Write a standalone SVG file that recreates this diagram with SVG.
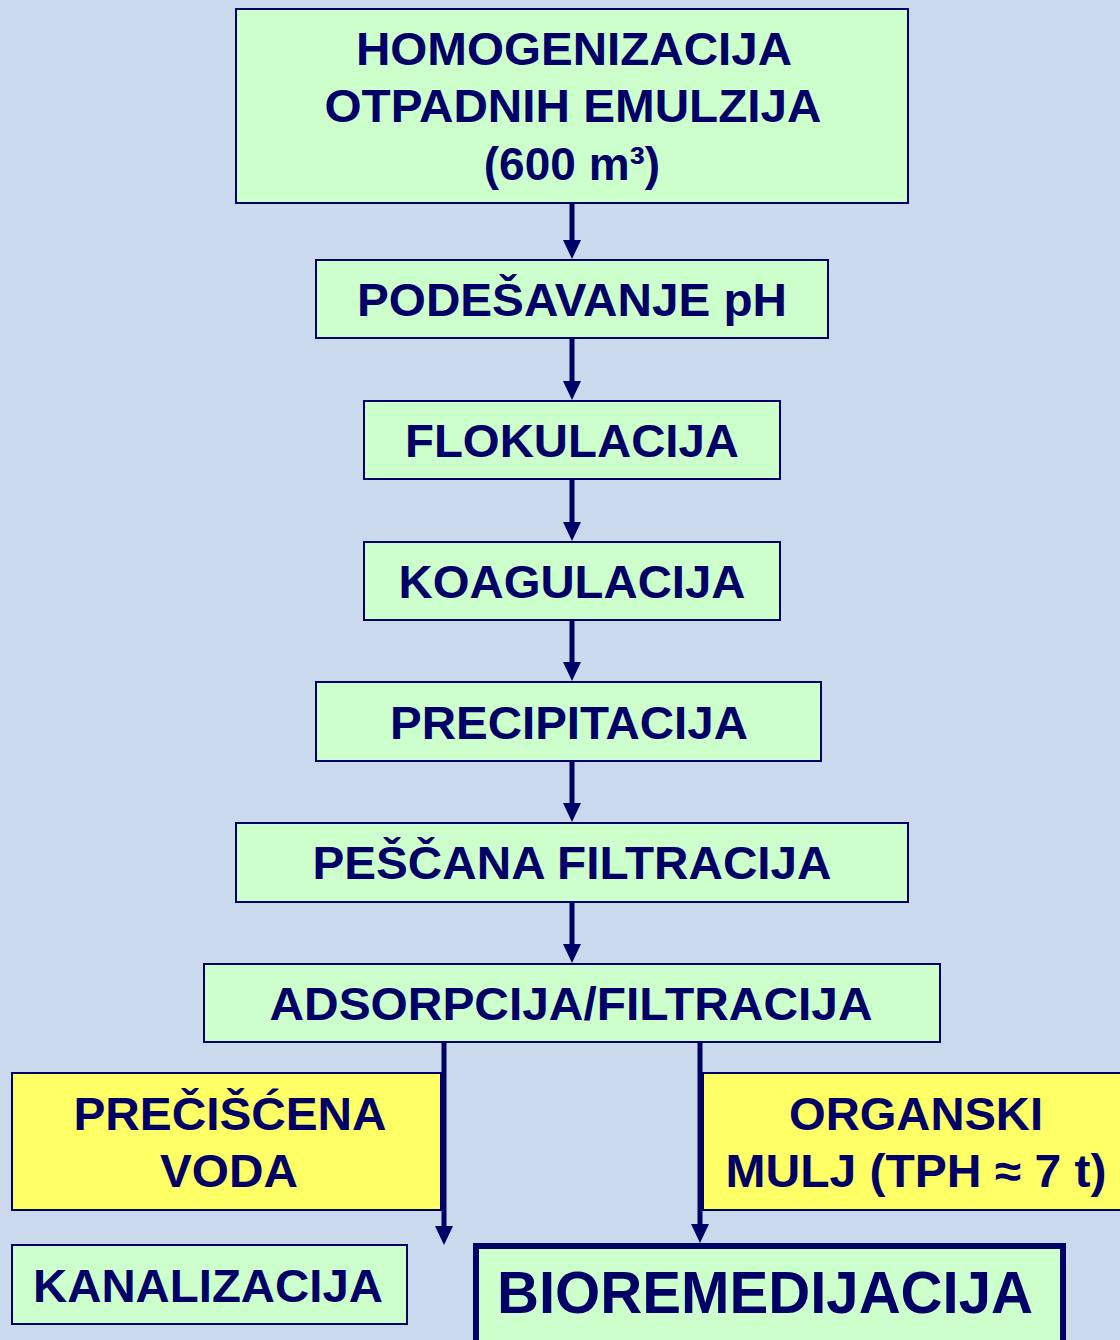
<svg xmlns="http://www.w3.org/2000/svg" width="1120" height="1340" viewBox="0 0 1120 1340">
<defs>
<style>
.g{fill:#ccffcc;stroke:#000066;stroke-width:2}
.y{fill:#ffff66;stroke:#000066;stroke-width:2}
.t{font-family:"Liberation Sans",Arial,sans-serif;font-weight:bold;font-size:46px;fill:#000066}
.c{stroke:#000066;stroke-width:5;fill:none}
.h{fill:#000066}
</style>
</defs>
<rect width="1120" height="1340" fill="#cad9ec"/>
<g id="connectors">
<line class="c" x1="572" y1="203" x2="572" y2="242"/><path class="h" d="M563,240 L581,240 L572,259 Z"/>
<line class="c" x1="572" y1="338" x2="572" y2="383"/><path class="h" d="M563,381 L581,381 L572,400 Z"/>
<line class="c" x1="572" y1="479" x2="572" y2="524"/><path class="h" d="M563,522 L581,522 L572,541 Z"/>
<line class="c" x1="572" y1="620" x2="572" y2="664"/><path class="h" d="M563,662 L581,662 L572,681 Z"/>
<line class="c" x1="572" y1="761" x2="572" y2="805"/><path class="h" d="M563,803 L581,803 L572,822 Z"/>
<line class="c" x1="572" y1="902" x2="572" y2="946"/><path class="h" d="M563,944 L581,944 L572,963 Z"/>
<line class="c" x1="444" y1="1042" x2="444" y2="1228"/><path class="h" d="M435,1226 L453,1226 L444,1245 Z"/>
<line class="c" x1="700" y1="1042" x2="700" y2="1226"/><path class="h" d="M691,1224 L709,1224 L700,1243 Z"/>
</g>
<g id="n1"><rect class="g" x="236" y="9" width="672" height="194"/>
<text class="t" x="574" y="65" text-anchor="middle" textLength="436" lengthAdjust="spacingAndGlyphs">HOMOGENIZACIJA</text>
<text class="t" x="573" y="122" text-anchor="middle" textLength="497" lengthAdjust="spacingAndGlyphs">OTPADNIH EMULZIJA</text>
<text class="t" x="572" y="180" text-anchor="middle">(600 m³)</text></g>
<g id="n2"><rect class="g" x="316" y="260" width="512" height="78"/>
<text class="t" x="572" y="316" text-anchor="middle" textLength="430" lengthAdjust="spacingAndGlyphs">PODEŠAVANJE pH</text></g>
<g id="n3"><rect class="g" x="364" y="401" width="416" height="78"/>
<text class="t" x="572" y="457" text-anchor="middle" textLength="334" lengthAdjust="spacingAndGlyphs">FLOKULACIJA</text></g>
<g id="n4"><rect class="g" x="364" y="542" width="416" height="78"/>
<text class="t" x="572" y="598" text-anchor="middle" textLength="347" lengthAdjust="spacingAndGlyphs">KOAGULACIJA</text></g>
<g id="n5"><rect class="g" x="316" y="682" width="505" height="79"/>
<text class="t" x="569" y="739" text-anchor="middle" textLength="358" lengthAdjust="spacingAndGlyphs">PRECIPITACIJA</text></g>
<g id="n6"><rect class="g" x="236" y="823" width="672" height="79"/>
<text class="t" x="572" y="879" text-anchor="middle" textLength="519" lengthAdjust="spacingAndGlyphs">PEŠČANA FILTRACIJA</text></g>
<g id="n7"><rect class="g" x="204" y="964" width="736" height="78"/>
<text class="t" x="571" y="1020" text-anchor="middle" textLength="603" lengthAdjust="spacingAndGlyphs">ADSORPCIJA/FILTRACIJA</text></g>
<g id="n8"><rect class="y" x="12" y="1073" width="429" height="137"/>
<text class="t" x="230" y="1130" text-anchor="middle" textLength="313" lengthAdjust="spacingAndGlyphs">PREČIŠĆENA</text>
<text class="t" x="229" y="1187" text-anchor="middle" textLength="138" lengthAdjust="spacingAndGlyphs">VODA</text></g>
<g id="n9"><rect class="y" x="703" y="1073" width="430" height="137"/>
<text class="t" x="916" y="1130" text-anchor="middle" textLength="254" lengthAdjust="spacingAndGlyphs">ORGANSKI</text>
<text class="t" x="916" y="1187" text-anchor="middle" textLength="381" lengthAdjust="spacingAndGlyphs">MULJ (TPH ≈ 7 t)</text></g>
<g id="n10"><rect class="g" x="12" y="1245" width="395" height="79"/>
<text class="t" x="208" y="1302" text-anchor="middle" textLength="350" lengthAdjust="spacingAndGlyphs">KANALIZACIJA</text></g>
<g id="n11"><rect class="g" x="476" y="1246" width="587" height="100" style="stroke-width:6"/>
<text class="t" x="765" y="1313" text-anchor="middle" style="font-size:60px" textLength="536" lengthAdjust="spacingAndGlyphs">BIOREMEDIJACIJA</text></g>
</svg>
